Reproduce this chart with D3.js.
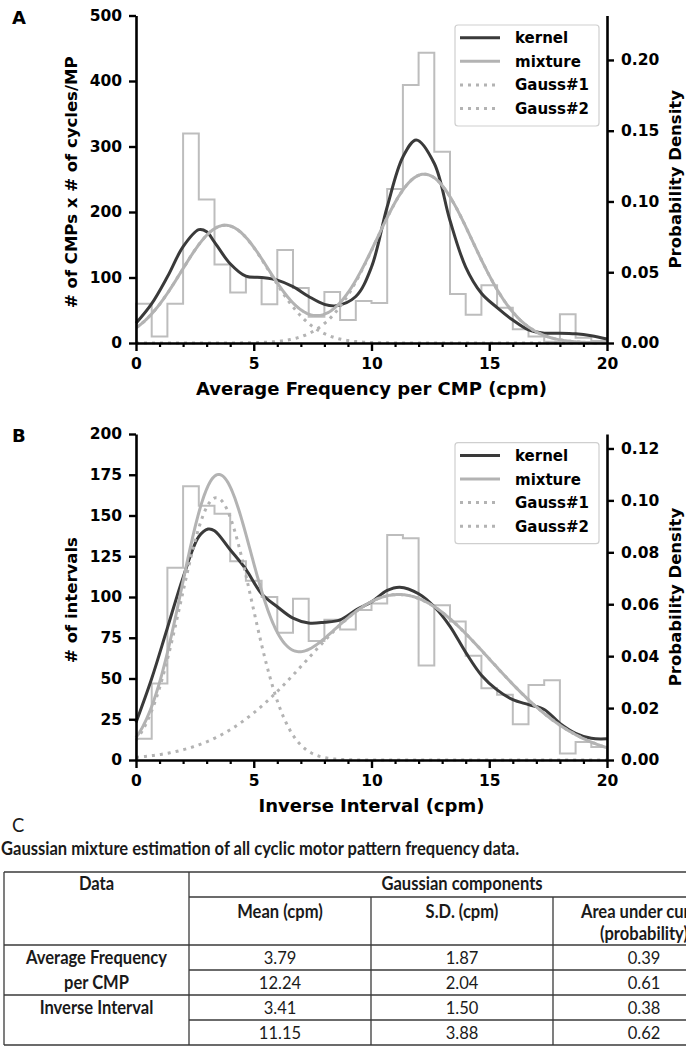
<!DOCTYPE html>
<html>
<head>
<meta charset="utf-8">
<script src="https://cdn.jsdelivr.net/npm/d3@7"></script>
<style>
  body { margin: 0; background: #fff; }
  svg { display: block; }
</style>
</head>
<body>
<svg id="fig" width="686" height="1046"></svg>
<script>
// ---- data -------------------------------------------------------------
const binWidth = 2 / 3;            // histogram bin width (cpm), bins cover 0–20

// Panel A: average frequency per CMP (counts per bin)
const freqCounts = [60, 10, 60, 320, 219, 120, 77, 100, 59, 142,
                    84, 40, 78, 35, 64, 61, 235, 394, 443, 292,
                    75, 43, 88, 54, 21, 10, 2, 44, 8, 3];
// Panel A: kernel density estimate, in count units [cpm, count]
const freqKernel = [[0, 30], [0.667, 60], [1.333, 101], [2, 147], [2.667, 173], [3, 170],
                    [3.333, 154], [4, 121], [4.667, 102], [5.333, 100], [6, 96], [6.667, 86],
                    [7.333, 71], [8, 59], [8.5, 57], [9.333, 71], [10, 116], [10.667, 208],
                    [11.333, 284], [11.9, 310], [12.667, 274], [13.333, 187], [14, 116],
                    [14.667, 76], [15.333, 54], [16, 35], [16.667, 20], [17.333, 15], [18, 15],
                    [18.667, 14], [19.333, 11], [20, 6]];

// Panel B: inverse interval (counts per bin)
const intervalCounts = [13, 47, 118, 168, 156, 151, 122, 110, 100, 78,
                        99, 73, 86, 80, 92, 96, 138, 136, 58, 95,
                        85, 64, 44, 40, 22, 46, 49, 4, 11, 8];
const intervalKernel = [[0, 23], [0.667, 50], [1.333, 81], [2, 112], [2.667, 137], [3.06, 141.7],
                        [3.333, 140.7], [4, 129], [4.667, 117], [5.333, 102], [6, 94], [6.667, 87],
                        [7.333, 84], [8, 84.5], [8.667, 86], [9.333, 92], [10, 97], [10.667, 104],
                        [11.2, 106], [12, 102], [12.667, 94], [13.333, 82], [14, 66], [14.667, 52],
                        [15.333, 43], [16, 37], [16.667, 34], [17.333, 31], [18, 22.5], [18.667, 16.4],
                        [19.333, 13.3], [20, 13]];

// Gaussian mixture estimates (table C); rows 0–1 frequency, rows 2–3 interval
const tableRowNames = ["Average Frequency", "per CMP", "Inverse Interval", ""];
const tableMeans = [3.79, 12.24, 3.41, 11.15];
const tableSDs = [1.87, 2.04, 1.50, 3.88];
const tableAreas = [0.39, 0.61, 0.38, 0.62];

const xTicks = [0, 5, 10, 15, 20];
const freqCountTicks = [0, 100, 200, 300, 400, 500];
const freqDensityTicks = [0, 0.05, 0.10, 0.15, 0.20];
const intervalCountTicks = [0, 25, 50, 75, 100, 125, 150, 175, 200];
const intervalDensityTicks = [0, 0.02, 0.04, 0.06, 0.08, 0.10, 0.12];
const legendLabels = ["kernel", "mixture", "Gauss#1", "Gauss#2"];

// ---- drawing ----------------------------------------------------------
const svg = d3.select("#fig");
const FONT = "DejaVu Sans";
const DARK = "#3a3a3a", LIGHT = "#b3b3b3", HIST = "#bdbdbd";

const normPdf = (v, m, s) => Math.exp(-0.5 * ((v - m) / s) ** 2) / (s * Math.sqrt(2 * Math.PI));

function styleAxis(sel, fontSize) {
  sel.attr("font-size", null).attr("font-family", null);
  sel.select(".domain").attr("stroke", "#000").attr("stroke-width", 2.6);
  sel.selectAll(".tick line").attr("stroke", "#000").attr("stroke-width", 2.4);
  sel.selectAll(".tick text")
     .attr("font-family", FONT).attr("font-weight", "bold")
     .attr("font-size", fontSize).attr("fill", "#000");
}

function drawPanel(p) {
  const x = d3.scaleLinear([0, 20], [136, 607]);
  const yC = d3.scaleLinear([0, p.countMax], [p.bottom, p.top]);
  const perDensity = d3.sum(p.counts) * binWidth;      // counts represented by unit density
  const yD = d3.scaleLinear([0, p.countMax / perDensity], [p.bottom, p.top]);
  const g = svg.append("g");

  // histogram outline (step)
  const steps = [[0, 0]];
  p.counts.forEach((c, i) => steps.push([i * binWidth, c], [(i + 1) * binWidth, c]));
  steps.push([20, 0]);
  const lineC = d3.line().x(d => x(d[0])).y(d => yC(d[1]));
  g.append("path").attr("d", lineC(steps))
    .attr("fill", "none").attr("stroke", HIST).attr("stroke-width", 2);

  // kernel estimate
  g.append("path")
    .attr("d", d3.line().x(d => x(d[0])).y(d => yC(d[1])).curve(d3.curveCatmullRom.alpha(0.5))(p.kernel))
    .attr("fill", "none").attr("stroke", DARK).attr("stroke-width", 3);

  // mixture and its components, scaled to counts
  const xs = d3.range(0, 20.0001, 0.05);
  const comp = p.rows.map(r => xs.map(v => [v, tableAreas[r] * normPdf(v, tableMeans[r], tableSDs[r]) * perDensity]));
  const mix = xs.map((v, i) => [v, comp[0][i][1] + comp[1][i][1]]);
  g.append("path").attr("d", lineC(mix))
    .attr("fill", "none").attr("stroke", LIGHT).attr("stroke-width", 3);
  comp.forEach(c => {
    g.append("path").attr("d", lineC(c))
      .attr("fill", "none").attr("stroke", LIGHT).attr("stroke-width", 3)
      .attr("stroke-dasharray", "3,5");
  });

  // axes
  const axL = g.append("g").attr("transform", "translate(136,0)")
    .call(d3.axisLeft(yC).tickValues(p.countTicks).tickSize(7).tickPadding(7).tickSizeOuter(0));
  styleAxis(axL, 15.5);
  const axR = g.append("g").attr("transform", "translate(607,0)")
    .call(d3.axisRight(yD).tickValues(p.densityTicks).tickFormat(d3.format(".2f"))
      .tickSize(7).tickPadding(7).tickSizeOuter(0));
  styleAxis(axR, 15.5);
  const axMinor = g.append("g").attr("transform", `translate(0,${p.bottom})`)
    .call(d3.axisBottom(x).tickValues(d3.range(1, 20).filter(v => v % 5)).tickSize(4).tickFormat(""));
  axMinor.select(".domain").remove();
  axMinor.selectAll(".tick line").attr("stroke", "#000").attr("stroke-width", 2.2);
  const axB = g.append("g").attr("transform", `translate(0,${p.bottom})`)
    .call(d3.axisBottom(x).tickValues(xTicks).tickFormat(d3.format("d")).tickSize(8).tickPadding(7).tickSizeOuter(0));
  styleAxis(axB, 15.5);

  // axis titles
  const midY = (p.top + p.bottom) / 2;
  g.append("text").text(p.xTitle)
    .attr("x", 371.5).attr("y", p.bottom + 52).attr("text-anchor", "middle")
    .attr("font-family", FONT).attr("font-weight", "bold").attr("font-size", 18);
  g.append("text").text(p.yTitle)
    .attr("transform", `translate(77,${midY + 3}) rotate(-90)`).attr("text-anchor", "middle")
    .attr("font-family", FONT).attr("font-weight", "bold").attr("font-size", 16.5);
  g.append("text").text("Probability Density")
    .attr("transform", `translate(681,${midY}) rotate(-90)`).attr("text-anchor", "middle")
    .attr("font-family", FONT).attr("font-weight", "bold").attr("font-size", 16.5);

  // panel letter
  g.append("text").text(p.label).attr("x", 12).attr("y", p.top + 8)
    .attr("font-family", FONT).attr("font-weight", "bold").attr("font-size", 18);

  // legend
  const lg = g.append("g");
  lg.append("rect").attr("x", 455).attr("y", p.legendTop).attr("width", 144).attr("height", 101)
    .attr("rx", 3).attr("fill", "#fff").attr("fill-opacity", 0.85)
    .attr("stroke", "#cfcfcf").attr("stroke-width", 1.2);
  const legendStyles = [
    { stroke: DARK, dash: null },
    { stroke: LIGHT, dash: null },
    { stroke: LIGHT, dash: "3,5" },
    { stroke: LIGHT, dash: "3,5" }
  ];
  legendLabels.forEach((name, i) => {
    const ly = p.legendTop + 12.7 + i * 23.6;
    lg.append("line").attr("x1", 460).attr("x2", 500).attr("y1", ly).attr("y2", ly)
      .attr("stroke", legendStyles[i].stroke).attr("stroke-width", 3)
      .attr("stroke-dasharray", legendStyles[i].dash);
    lg.append("text").text(name).attr("x", 515).attr("y", ly + 5.5)
      .attr("font-family", FONT).attr("font-weight", "bold").attr("font-size", 15);
  });
}

drawPanel({
  label: "A", top: 15.5, bottom: 343, countMax: 500,
  counts: freqCounts, kernel: freqKernel, rows: [0, 1],
  countTicks: freqCountTicks, densityTicks: freqDensityTicks,
  xTitle: "Average Frequency per CMP (cpm)", yTitle: "# of CMPs x # of cycles/MP",
  legendTop: 25
});
drawPanel({
  label: "B", top: 434, bottom: 760, countMax: 200,
  counts: intervalCounts, kernel: intervalKernel, rows: [2, 3],
  countTicks: intervalCountTicks, densityTicks: intervalDensityTicks,
  xTitle: "Inverse Interval (cpm)", yTitle: "# of intervals",
  legendTop: 442.7
});

// ---- table C ------------------------------------------------------------
// Narrow humanist face: Lato squeezed horizontally
const TFONT = "Lato", SQUEEZE = 0.92;
const tg = svg.append("g").attr("font-family", TFONT).attr("fill", "#1a1a1a");
const tText = (t, x, y, size, bold, anchor) => tg.append("text").text(t)
  .attr("transform", `translate(${x},${y}) scale(${SQUEEZE},1)`)
  .attr("text-anchor", anchor || "middle").attr("font-size", size)
  .attr("font-weight", bold ? "bold" : "normal");

tText("C", 12, 832, 20, false, "start");
tText("Gaussian mixture estimation of all cyclic motor pattern frequency data.", 1, 855, 18, true, "start");

const colX = [4, 189, 371, 553, 735];
const rowY = [872, 897, 945, 970, 995, 1020, 1045];
const hLines = [
  [rowY[0], colX[0]], [rowY[1], colX[1]], [rowY[2], colX[0]], [rowY[3], colX[1]],
  [rowY[4], colX[0]], [rowY[5], colX[1]], [rowY[6], colX[0]]
];
hLines.forEach(([y, x0]) => {
  tg.append("line").attr("x1", x0).attr("x2", colX[4]).attr("y1", y).attr("y2", y)
    .attr("stroke", "#3a3a3a").attr("stroke-width", 1.3);
});
[[colX[0], rowY[0]], [colX[1], rowY[0]], [colX[2], rowY[1]], [colX[3], rowY[1]], [colX[4], rowY[0]]]
  .forEach(([x, y0]) => {
    tg.append("line").attr("x1", x).attr("x2", x).attr("y1", y0).attr("y2", rowY[6])
      .attr("stroke", "#3a3a3a").attr("stroke-width", 1.3);
  });

const colMid = i => (colX[i] + colX[i + 1]) / 2;
tText("Data", colMid(0), 890, 18, true);
tText("Gaussian components", (colX[1] + colX[4]) / 2, 890, 18, true);
tText("Mean (cpm)", colMid(1), 918, 18, true);
tText("S.D. (cpm)", colMid(2), 918, 18, true);
tText("Area under curve", colMid(3), 918, 18, true);
tText("(probability)", colMid(3), 940, 18, true);
tableRowNames.forEach((name, i) => {
  const y = 964 + i * 25;
  if (name) tText(name, colMid(0), y, 18, true);
  tText(tableMeans[i].toFixed(2), colMid(1), y, 18, false);
  tText(tableSDs[i].toFixed(2), colMid(2), y, 18, false);
  tText(tableAreas[i].toFixed(2), colMid(3), y, 18, false);
});
</script>
</body>
</html>
